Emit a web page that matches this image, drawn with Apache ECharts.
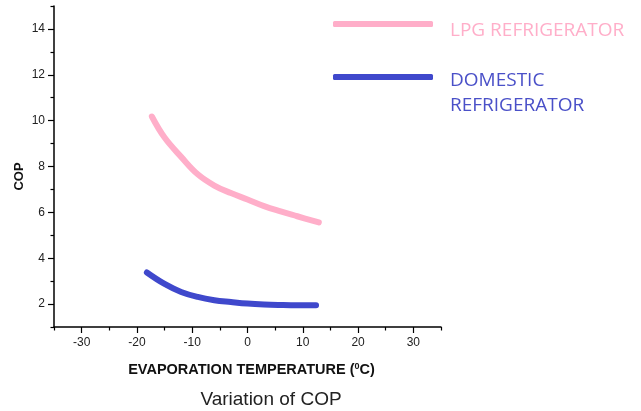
<!DOCTYPE html>
<html>
<head>
<meta charset="utf-8">
<script src="https://cdn.jsdelivr.net/npm/echarts@6/dist/echarts.min.js"></script>
<style>
  html, body { margin: 0; padding: 0; background: #fff; }
  #chart { width: 641px; height: 411px; }
</style>
</head>
<body>
<div id="chart"></div>
<script>
// LPG refrigerator COP vs evaporation temperature
const lpgTemp = [-17.3, -15, -12, -9, -6, -3, 0, 3, 6, 9, 12.9]
const lpgCop = [10.18, 9.26, 8.42, 7.66, 7.17, 6.84, 6.56, 6.27, 6.04, 5.83, 5.56]

// domestic refrigerator COP vs evaporation temperature
const domTemp = [-18.2, -15, -12, -9, -6, -3, 0, 3, 6, 9, 12.4]
const domCop = [3.38, 2.88, 2.53, 2.31, 2.17, 2.09, 2.02, 1.98, 1.96, 1.95, 1.95]

const xMajor = [-30, -20, -10, 0, 10, 20, 30]
const xMinor = [-35, -25, -15, -5, 5, 15, 25, 35]
const yMajor = [2, 4, 6, 8, 10, 12, 14]
const yMinor = [1, 3, 5, 7, 9, 11, 13, 15]

const PINK = '#ffaec9'
const BLUE = '#3f48cc'

const chart = echarts.init(document.getElementById('chart'))

const axisLine = { show: true, onZero: false, lineStyle: { color: '#000', width: 1.5 } }
const tickLabel = { color: '#222', fontSize: 12, fontFamily: 'Liberation Sans' }
const tickLine = { color: '#000', width: 1.2 }

const zip = (xs, ys) => xs.map((x, i) => [x, ys[i]])

chart.setOption({
  animation: false,
  title: {
    text: 'Variation of COP',
    left: 266,
    top: 385,
    textAlign: 'center',
    textStyle: { color: '#222', fontSize: 19, fontWeight: 'normal', fontFamily: 'Liberation Sans' },
  },
  legend: [
    {
      left: 328,
      top: 4,
      icon: 'roundRect',
      itemWidth: 100,
      itemHeight: 6,
      data: [{ name: 'LPG REFRIGERATOR' }],
      formatter: (name) => '{g| }\n{t|' + name + '}',
      textStyle: {
        rich: {
          g: { fontSize: 10, lineHeight: 14 },
          t: { color: PINK, fontSize: 19, fontFamily: 'Open Sans', lineHeight: 20, padding: [0, 0, 0, 12] },
        },
      },
    },
    {
      left: 328,
      top: 42,
      icon: 'roundRect',
      itemWidth: 100,
      itemHeight: 6,
      data: [{ name: 'DOMESTIC\nREFRIGERATOR' }],
      formatter: () => '{g| }\n{t|DOMESTIC}\n{t|REFRIGERATOR}',
      textStyle: {
        rich: {
          g: { fontSize: 10, lineHeight: 32 },
          t: { color: '#4a50c8', fontSize: 19, fontFamily: 'Open Sans', lineHeight: 25, padding: [0, 0, 0, 12] },
        },
      },
    },
  ],
  grid: { left: 54, top: 6, right: 200, bottom: 84 },
  xAxis: [
    {
      type: 'value', min: -35, max: 35, position: 'bottom',
      axisLine: axisLine,
      axisTick: { show: true, customValues: xMajor, length: 6, lineStyle: tickLine },
      axisLabel: Object.assign({ customValues: xMajor, margin: 10 }, tickLabel),
      splitLine: { show: false },
      name: '{t|EVAPORATION TEMPERATURE (}{s|0}{t|C)}',
      nameLocation: 'middle',
      nameGap: 35,
      nameTextStyle: {
        padding: [0, 0, 0, 8],
        rich: {
          t: { fontSize: 14.5, fontWeight: 'bold', color: '#111', fontFamily: 'Liberation Sans' },
          s: { fontSize: 9, fontWeight: 'bold', color: '#111', fontFamily: 'Liberation Sans', padding: [0, 0, 7, 0] },
        },
      },
    },
    {
      type: 'value', min: -35, max: 35, position: 'bottom',
      axisLine: { show: false, onZero: false },
      axisTick: { show: true, customValues: xMinor, length: 3.5, lineStyle: tickLine },
      axisLabel: { show: false },
      splitLine: { show: false },
    },
  ],
  yAxis: [
    {
      type: 'value', min: 1, max: 15, position: 'left',
      axisLine: axisLine,
      axisTick: { show: true, customValues: yMajor, length: 6, lineStyle: tickLine },
      axisLabel: Object.assign({ customValues: yMajor, margin: 9 }, tickLabel),
      splitLine: { show: false },
      name: 'COP',
      nameLocation: 'middle',
      nameRotate: 90,
      nameGap: 28,
      nameMoveOverlap: false,
      nameTextStyle: {
        fontSize: 13, fontWeight: 'bold', color: '#111', fontFamily: 'Liberation Sans',
        padding: [0, 20, 0, 0],
      },
    },
    {
      type: 'value', min: 1, max: 15, position: 'left',
      axisLine: { show: false, onZero: false },
      axisTick: { show: true, customValues: yMinor, length: 3.5, lineStyle: tickLine },
      axisLabel: { show: false },
      splitLine: { show: false },
    },
  ],
  series: [
    {
      name: 'LPG REFRIGERATOR',
      type: 'line',
      data: zip(lpgTemp, lpgCop),
      smooth: 0.4,
      showSymbol: false,
      color: PINK,
      lineStyle: { width: 6, cap: 'round', join: 'round' },
    },
    {
      name: 'DOMESTIC\nREFRIGERATOR',
      type: 'line',
      data: zip(domTemp, domCop),
      smooth: 0.4,
      showSymbol: false,
      color: BLUE,
      lineStyle: { width: 6, cap: 'round', join: 'round' },
    },
  ],
})
</script>
</body>
</html>
